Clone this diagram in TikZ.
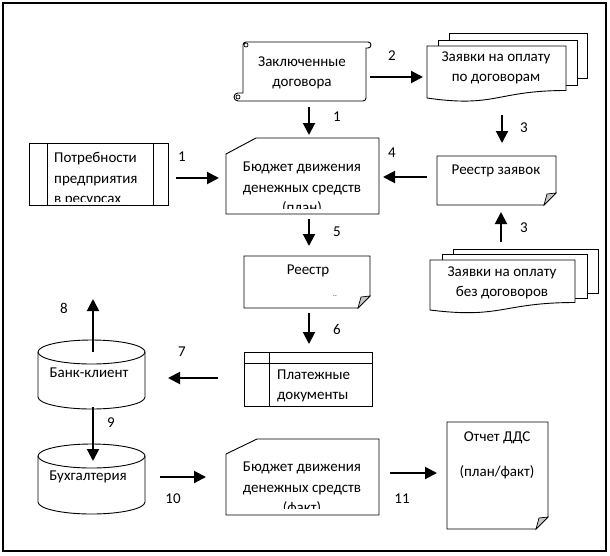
\documentclass[tikz,border=0pt]{standalone}
\usepackage{fontspec}
\setmainfont{Carlito}
\usetikzlibrary{arrows.meta}

\tikzset{
  shp/.style={draw, line width=0.9pt, fill=white},
  flap/.style={draw, line width=0.7pt, fill=gray!45},
  flow/.style={line width=2pt, -{Triangle[length=12pt,width=12pt]}},
  lbl/.style={font=\fontsize{15}{20.5}\selectfont, align=center, inner sep=0pt},
  num/.style={font=\fontsize{15}{16}\selectfont, inner sep=0pt}
}

\begin{document}
\begin{tikzpicture}[x=1pt, y=-1pt]
\useasboundingbox (0,0) rectangle (610,555);
% Draw frame
\draw[line width=1.3pt] (3,3) rectangle (606,551);
% Draw scroll
\draw[shp] (246,42) -- (368,42) arc[start angle=-90, end angle=90, radius=3] -- (366,48) -- (366,98)
  arc[start angle=0, end angle=90, radius=3] -- (238,101) arc[start angle=90, end angle=270, radius=4]
  -- (243,93) -- (243,45) arc[start angle=180, end angle=270, radius=3] -- cycle;
\draw[line width=0.7pt] (246,45) circle[radius=2];
\draw[line width=0.7pt] (238,97) circle[radius=2];
\node[lbl] (dogovor) at (302,73) {Заключенные\\договора};
% Draw multi documents (top)
\draw[shp] (449,33) rectangle (587,78);
\draw[shp] (438,40) rectangle (577,85);
\draw[shp] (427,46) -- (566,46) -- (566,90.5) .. controls (496,90.5) and (496,108) .. (427,98) -- cycle;
\node[lbl] (zdog) at (496,68) {Заявки на оплату\\по договорам};
% Draw multi documents (bottom)
\draw[shp] (453,249) rectangle (598,293);
\draw[shp] (442,254) rectangle (587,298);
\draw[shp] (430,260) -- (575,260) -- (575,302.5) .. controls (502,302.5) and (502,319) .. (430,310) -- cycle;
\node[lbl] (zbez) at (502,283) {Заявки на оплату\\без договоров};
% Draw registers
\draw[shp] (437,156) -- (556,156) -- (556,193) -- (544,205) -- (437,205) -- cycle;
\draw[flap] (556,193) -- (547,194) -- (544,205) -- cycle;
\node[lbl] (rzayav) at (496,171) {Реестр заявок};
\draw[shp] (244,256) -- (370,256) -- (370,296) -- (358,308) -- (244,308) -- cycle;
\draw[flap] (370,296) -- (361,297) -- (358,308) -- cycle;
\node[lbl] (reestr) at (308,271) {Реестр};
\node[font=\fontsize{7}{7}\selectfont, inner sep=0pt] (dots) at (335,296) {..};
\draw[shp] (447,422) -- (548,422) -- (548,517) -- (536,529) -- (447,529) -- cycle;
\draw[flap] (548,517) -- (539,518) -- (536,529) -- cycle;
\node[lbl] (otchet) at (497,438) {Отчет ДДС};
\node[lbl] (planfakt) at (497,472) {(план/факт)};
% Draw needs
\draw[shp] (29,143) rectangle (168,205);
\draw[line width=0.9pt] (47,143) -- (47,205);
\draw[line width=0.9pt] (153,143) -- (153,205);
\begin{scope}
\clip (47,143) rectangle (153,201);
\node[lbl, align=left, anchor=west] (needs) at (54,179.5) {Потребности\\предприятия\\в ресурсах};
\end{scope}
% Draw budgets
\draw[shp] (256,138) -- (379,138) -- (379,214) -- (226,214) -- (226,154) -- cycle;
\begin{scope}
\clip (226,138) rectangle (379,208);
\node[lbl] (bplan) at (302,188.5) {Бюджет движения\\денежных средств\\(план)};
\end{scope}
\draw[shp] (257,439) -- (379,439) -- (379,515) -- (226,515) -- (226,454) -- cycle;
\begin{scope}
\clip (226,439) rectangle (379,508);
\node[lbl] (bfakt) at (302,488.5) {Бюджет движения\\денежных средств\\(факт)};
\end{scope}
% Draw payment documents
\draw[shp] (244,352) rectangle (372,406);
\draw[line width=0.9pt] (244,363) -- (372,363);
\draw[line width=0.9pt] (269,352) -- (269,406);
\node[lbl, align=left, anchor=west] (plat) at (277,386) {Платежные\\документы};
% Draw cylinders
\draw[shp] (38,352) -- (38,397) arc[start angle=180, end angle=0, x radius=53.5, y radius=12]
  -- (145,352) arc[start angle=0, end angle=-180, x radius=53.5, y radius=12] -- cycle;
\draw[line width=0.9pt] (38,352) arc[start angle=180, end angle=0, x radius=53.5, y radius=12];
\node[lbl] (bank) at (89,373) {Банк-клиент};
\draw[shp] (38,456) -- (38,502) arc[start angle=180, end angle=0, x radius=53.5, y radius=12]
  -- (145,456) arc[start angle=0, end angle=-180, x radius=53.5, y radius=12] -- cycle;
\draw[line width=0.9pt] (38,456) arc[start angle=180, end angle=0, x radius=53.5, y radius=12];
\node[lbl] (buh) at (88,477) {Бухгалтерия};
% Arrow ends
\coordinate (a1s) at (309,107); \coordinate (a1e) at (309,135);
\coordinate (a2s) at (370,77);  \coordinate (a2e) at (423,77);
\coordinate (a3s) at (502,115); \coordinate (a3e) at (502,143);
\coordinate (b3s) at (501,242); \coordinate (b3e) at (501,212);
\coordinate (a4s) at (427,177); \coordinate (a4e) at (383,177);
\coordinate (c1s) at (176,178); \coordinate (c1e) at (219,178);
\coordinate (a5s) at (309,219); \coordinate (a5e) at (309,246);
\coordinate (a6s) at (309,313); \coordinate (a6e) at (309,344);
\coordinate (a7s) at (218,378); \coordinate (a7e) at (168,378);
\coordinate (a8s) at (93,352);  \coordinate (a8e) at (93,299);
\coordinate (a9s) at (93,407);  \coordinate (a9e) at (93,461);
\coordinate (a10s) at (160,477); \coordinate (a10e) at (206,477);
\coordinate (a11s) at (390,473); \coordinate (a11e) at (437,473);
% Draw arrows
\draw[flow] (a1s) -- (a1e);
\draw[flow] (a2s) -- (a2e);
\draw[flow] (a3s) -- (a3e);
\draw[flow] (b3s) -- (b3e);
\draw[flow] (a4s) -- (a4e);
\draw[flow] (c1s) -- (c1e);
\draw[flow] (a5s) -- (a5e);
\draw[flow] (a6s) -- (a6e);
\draw[flow] (a7s) -- (a7e);
\draw[flow] (a8s) -- (a8e);
\draw[flow] (a9s) -- (a9e);
\draw[flow] (a10s) -- (a10e);
\draw[flow] (a11s) -- (a11e);
% Draw labels
\node[num] (n1) at (337,117) {1};
\node[num] (n2) at (392,56) {2};
\node[num] (n3) at (524,128) {3};
\node[num] (m3) at (524,228) {3};
\node[num] (n4) at (392,153) {4};
\node[num] (m1) at (182,157) {1};
\node[num] (n5) at (337,232) {5};
\node[num] (n6) at (337,329) {6};
\node[num] (n7) at (182,352) {7};
\node[num] (n8) at (64,308) {8};
\node[num] (n9) at (111,423) {9};
\node[num] (n10) at (173,499) {10};
\node[num] (n11) at (402,499) {11};
\end{tikzpicture}
\end{document}
